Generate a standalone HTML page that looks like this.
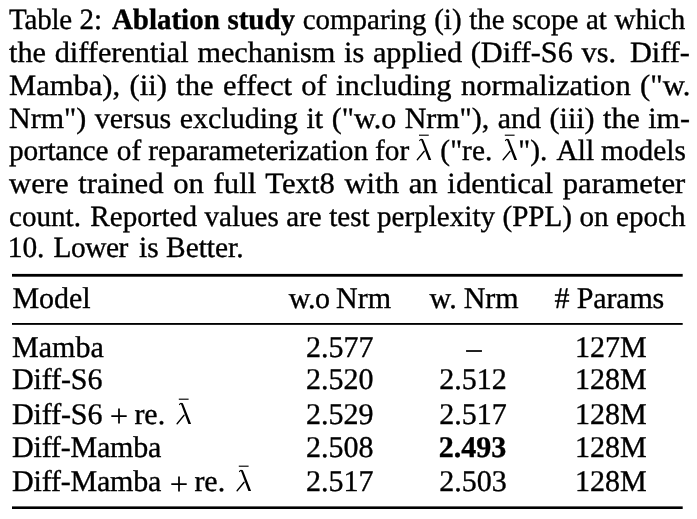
<!DOCTYPE html>
<html><head><meta charset="utf-8">
<style>
html,body{margin:0;padding:0;background:#fff;}
body{width:697px;height:519px;position:relative;overflow:hidden;font-family:"Liberation Serif",serif;color:#000;font-size:29.4px;text-rendering:geometricPrecision;-webkit-text-stroke:0.35px #000;will-change:transform;}
.ln{position:absolute;left:9.3px;height:33px;line-height:33px;white-space:nowrap;transform-origin:0 0;}
.t{font-size:30.0px;position:absolute;line-height:33px;height:33px;white-space:nowrap;}
.rule{position:absolute;background:#000;left:12px;width:671px;}
.xs{display:inline-block;height:1px;}
.lam{display:inline-block;position:relative;width:16px;height:0;}
.lam svg{position:absolute;left:0;bottom:-2px;overflow:visible;}
.pl{display:inline-block;position:relative;width:16px;height:0;}
.pl svg{position:absolute;left:0;bottom:-0.6px;overflow:visible;}
</style></head><body>
<div class="ln" style="top:3.5px;word-spacing:0.474px;transform:scaleX(0.985)"><span style="letter-spacing:-0.17px">Table 2:</span><span class="xs" style="width:2.5px"></span> <b>Ablation study</b> comparing (i) the scope at which</div>
<div class="ln" style="top:36.6px;word-spacing:1.137px;transform:scaleX(1.03)">the differential mechanism is applied (Diff-S6 vs.<span class="xs" style="width:5px"></span> Diff-</div>
<div class="ln" style="top:69.9px;word-spacing:1.648px;transform:scaleX(1.04)">Mamba), (ii) the effect of including normalization ("w.</div>
<div class="ln" style="top:102.7px;word-spacing:1.002px;transform:scaleX(1.02)">Nrm") versus excluding it ("w.o Nrm"), and (iii) the im-</div>
<div class="ln" style="top:134.9px;word-spacing:-0.351px;transform:scaleX(0.998)"><span style="letter-spacing:-0.22px">portance</span><span class="xs" style="width:1.6px"></span> of reparameterization for <span class="lam"><svg width="18" height="28" viewBox="0 0 18 28"><path d="M2.8 1.2H12.6" stroke="#000" stroke-width="1.15" fill="none"/><path d="M3.5 6.6Q4.4 4.9 5.6 5.5" stroke="#000" stroke-width="1.1" fill="none" stroke-linecap="round"/><path d="M4.7 5.3L6.5 4.9Q7.1 5.4 7.5 6.8L15.1 26H12.4Z" fill="#000"/><path d="M8.1 17.2L1.1 25.7" stroke="#000" stroke-width="1.35" fill="none" stroke-linecap="round"/></svg></span><span class="xs" style="width:1.2px"></span> ("re.<span class="xs" style="width:3px"></span> <span class="lam"><svg width="18" height="28" viewBox="0 0 18 28"><path d="M2.8 1.2H12.6" stroke="#000" stroke-width="1.15" fill="none"/><path d="M3.5 6.6Q4.4 4.9 5.6 5.5" stroke="#000" stroke-width="1.1" fill="none" stroke-linecap="round"/><path d="M4.7 5.3L6.5 4.9Q7.1 5.4 7.5 6.8L15.1 26H12.4Z" fill="#000"/><path d="M8.1 17.2L1.1 25.7" stroke="#000" stroke-width="1.35" fill="none" stroke-linecap="round"/></svg></span>").<span class="xs" style="width:4px"></span> All models</div>
<div class="ln" style="top:167.7px;word-spacing:1.940px;transform:scaleX(1.044)">were trained on full Text8 with an identical parameter</div>
<div class="ln" style="top:200.5px;word-spacing:0.177px;transform:scaleX(0.99)">count.<span class="xs" style="width:2px"></span> Reported values are test perplexity (PPL) on epoch</div>
<div class="ln" style="top:232.2px;left:7.7px;word-spacing:0.000px;transform:scaleX(1.0)">10.<span class="xs" style="width:1.6px"></span> <span style="letter-spacing:-0.45px">Lower</span><span class="xs" style="width:3.9px"></span> is Better.</div>
<svg style="position:absolute;left:0;top:0" width="697" height="519" viewBox="0 0 697 519"><rect x="12" y="273.9" width="670.7" height="2.8" fill="#000"/><rect x="12" y="323.0" width="670.7" height="1.85" fill="#000"/><rect x="12" y="506.4" width="670.7" height="2.6" fill="#000"/></svg>

<div class="t" style="left:12.39px;top:281.70px;">Model</div>
<div class="t" style="left:288.80px;top:281.70px;letter-spacing:-0.5px;">w.o</div>
<div class="t" style="left:336.10px;top:281.70px;">Nrm</div>
<div class="t" style="left:429.50px;top:281.70px;">w.</div>
<div class="t" style="left:463.69px;top:281.70px;">Nrm</div>
<div class="t" style="left:554.48px;top:281.70px;">#</div>
<div class="t" style="left:576.70px;top:281.70px;letter-spacing:-0.15px;">Params</div>
<div class="t" style="left:12.09px;top:330.90px;">Mamba</div>
<div class="t" style="left:12.09px;top:362.80px;letter-spacing:-0.13px;">Diff-S6</div>
<div class="t" style="left:12.09px;top:397.60px;letter-spacing:-0.13px;">Diff-S6</div>
<div class="t" style="left:110.80px;top:397.60px;"><span class="pl"><svg width="16" height="16" viewBox="0 0 16 16"><path d="M0.3 8.2H15.7M8 0.6V15.4" stroke="#000" stroke-width="1.75" fill="none"/></svg></span></div>
<div class="t" style="left:134.39px;top:397.60px;">re.</div>
<div class="t" style="left:175.61px;top:397.60px;"><span class="lam"><svg width="18" height="28" viewBox="0 0 18 28"><path d="M2.8 1.2H12.6" stroke="#000" stroke-width="1.15" fill="none"/><path d="M3.5 6.6Q4.4 4.9 5.6 5.5" stroke="#000" stroke-width="1.1" fill="none" stroke-linecap="round"/><path d="M4.7 5.3L6.5 4.9Q7.1 5.4 7.5 6.8L15.1 26H12.4Z" fill="#000"/><path d="M8.1 17.2L1.1 25.7" stroke="#000" stroke-width="1.35" fill="none" stroke-linecap="round"/></svg></span></div>
<div class="t" style="left:12.09px;top:430.50px;letter-spacing:-0.2px;">Diff-Mamba</div>
<div class="t" style="left:12.09px;top:465.10px;letter-spacing:-0.2px;">Diff-Mamba</div>
<div class="t" style="left:170.80px;top:465.10px;"><span class="pl"><svg width="16" height="16" viewBox="0 0 16 16"><path d="M0.3 8.2H15.7M8 0.6V15.4" stroke="#000" stroke-width="1.75" fill="none"/></svg></span></div>
<div class="t" style="left:194.39px;top:465.10px;">re.</div>
<div class="t" style="left:235.61px;top:465.10px;"><span class="lam"><svg width="18" height="28" viewBox="0 0 18 28"><path d="M2.8 1.2H12.6" stroke="#000" stroke-width="1.15" fill="none"/><path d="M3.5 6.6Q4.4 4.9 5.6 5.5" stroke="#000" stroke-width="1.1" fill="none" stroke-linecap="round"/><path d="M4.7 5.3L6.5 4.9Q7.1 5.4 7.5 6.8L15.1 26H12.4Z" fill="#000"/><path d="M8.1 17.2L1.1 25.7" stroke="#000" stroke-width="1.35" fill="none" stroke-linecap="round"/></svg></span></div>
<div class="t" style="left:306.10px;top:330.90px;">2.577</div>
<div class="t" style="left:574.88px;top:330.90px;">127M</div>
<div class="t" style="left:306.10px;top:362.80px;">2.520</div>
<div class="t" style="left:439.30px;top:362.80px;">2.512</div>
<div class="t" style="left:574.88px;top:362.80px;">128M</div>
<div class="t" style="left:306.10px;top:397.60px;">2.529</div>
<div class="t" style="left:439.30px;top:397.60px;">2.517</div>
<div class="t" style="left:574.88px;top:397.60px;">128M</div>
<div class="t" style="left:306.10px;top:430.50px;">2.508</div>
<div class="t" style="left:438.80px;top:430.50px;"><b>2.493</b></div>
<div class="t" style="left:574.88px;top:430.50px;">128M</div>
<div class="t" style="left:306.10px;top:465.10px;">2.517</div>
<div class="t" style="left:439.30px;top:465.10px;">2.503</div>
<div class="t" style="left:574.88px;top:465.10px;">128M</div>
<div class="t" style="left:466.38px;top:331.90px;">–</div>
</body></html>
